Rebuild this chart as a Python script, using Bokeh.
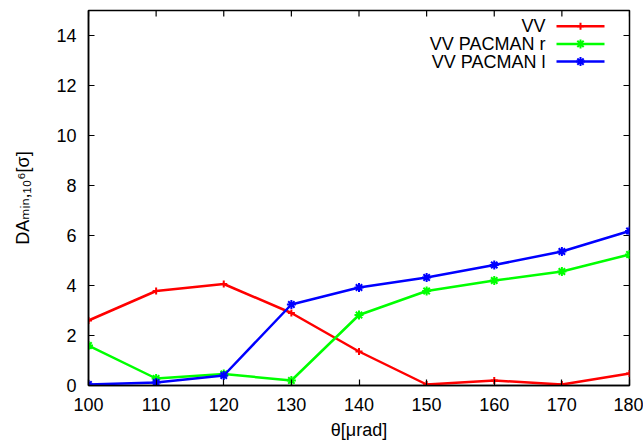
from bokeh.plotting import figure
from bokeh.models import Range1d, Label, FixedTicker
from bokeh.embed import file_html
from bokeh.resources import INLINE

# ---- data ----
theta = [100, 110, 120, 130, 140, 150, 160, 170, 180]
vv = [2.60, 3.78, 4.06, 2.90, 1.36, 0.04, 0.20, 0.04, 0.48]
vv_pacman_r = [1.60, 0.28, 0.46, 0.20, 2.82, 3.78, 4.20, 4.56, 5.24]
vv_pacman_l = [0.04, 0.12, 0.40, 3.24, 3.92, 4.32, 4.82, 5.36, 6.18]
series_names = ["VV", "VV PACMAN r", "VV PACMAN l"]
x_ticks = [100, 110, 120, 130, 140, 150, 160, 170, 180]
y_ticks = [0, 2, 4, 6, 8, 10, 12, 14]
X_MIN, X_MAX = 100, 180
Y_MIN, Y_MAX = 0, 15

# ---- layout ----
W, H = 643, 442
FL, FR, FT, FB = 88, 629, 10, 385
FONT = "Liberation Sans"
FS = "18px"
TICK = 6

def px2x(px):
    return X_MIN + (px - FL) / (FR - FL) * (X_MAX - X_MIN)

def px2y(py):
    return Y_MIN + (FB - py) / (FB - FT) * (Y_MAX - Y_MIN)

p = figure(width=W, height=H, output_backend="svg", toolbar_location=None,
           x_range=Range1d(X_MIN, X_MAX), y_range=Range1d(Y_MIN, Y_MAX),
           min_border_left=FL, min_border_right=W - FR, min_border_top=FT,
           min_border_bottom=H - FB)
p.grid.visible = False
p.outline_line_color = "black"
p.outline_line_width = 1.5
p.background_fill_color = "white"
p.border_fill_color = "white"

def style_axis(ax, ticks):
    ax.ticker = FixedTicker(ticks=ticks)
    ax.major_tick_in = TICK
    ax.major_tick_out = 0
    ax.minor_tick_in = 0
    ax.minor_tick_out = 0
    ax.axis_line_color = "black"
    ax.axis_line_width = 1.5
    ax.major_tick_line_color = "black"
    ax.major_tick_line_width = 1.2
    ax.major_label_text_font = FONT
    ax.major_label_text_font_size = FS
    ax.major_label_text_color = "black"
    ax.axis_label_text_font = FONT
    ax.axis_label_text_font_size = FS
    ax.axis_label_text_font_style = "normal"
    ax.axis_label_text_color = "black"

xa = p.xaxis[0]
style_axis(xa, x_ticks)
xa.major_label_standoff = 12
xa.axis_label = "θ[μrad]"
xa.axis_label_standoff = 6

ya = p.yaxis[0]
style_axis(ya, y_ticks)
ya.major_label_standoff = 12
ya.axis_label = "DAₘᵢₙ,₁₀⁶[σ]"
ya.axis_label_text_font = "Liberation Sans, DejaVu Sans"
ya.axis_label_standoff = 20

# mirrored ticks on top and right (gnuplot style)
p.segment(x0=x_ticks, y0=[Y_MAX] * len(x_ticks), x1=x_ticks,
          y1=[px2y(FT + TICK)] * len(x_ticks), line_color="black", line_width=1.2)
p.segment(x0=[X_MAX] * len(y_ticks), y0=y_ticks, x1=[px2x(FR - TICK)] * len(y_ticks),
          y1=y_ticks, line_color="black", line_width=1.2)

colors = ["#ff0000", "#00ff00", "#0000ff"]
markers = ["cross", "asterisk", "asterisk"]
msizes = [7, 9, 9]
data = [vv, vv_pacman_r, vv_pacman_l]

for ys, c, m, s in zip(data, colors, markers, msizes):
    p.line(theta, ys, line_color=c, line_width=2.5)
    p.scatter(theta, ys, marker=m, size=s, line_color=c, line_width=2)

# ---- legend (gnuplot style: text, then sample) ----
for i, (name, c, m, s) in enumerate(zip(series_names, colors, markers, msizes)):
    ly = px2y(25.7 + i * 17.7)
    p.add_layout(Label(x=px2x(545), y=ly, text=name, text_align="right",
                       text_baseline="middle", text_font=FONT,
                       text_font_size=FS, text_color="black"))
    p.line([px2x(556), px2x(604)], [ly, ly], line_color=c, line_width=2.5)
    p.scatter([px2x(580)], [ly], marker=m, size=s, line_color=c, line_width=2)

open("out.html", "w").write(file_html(p, INLINE))
